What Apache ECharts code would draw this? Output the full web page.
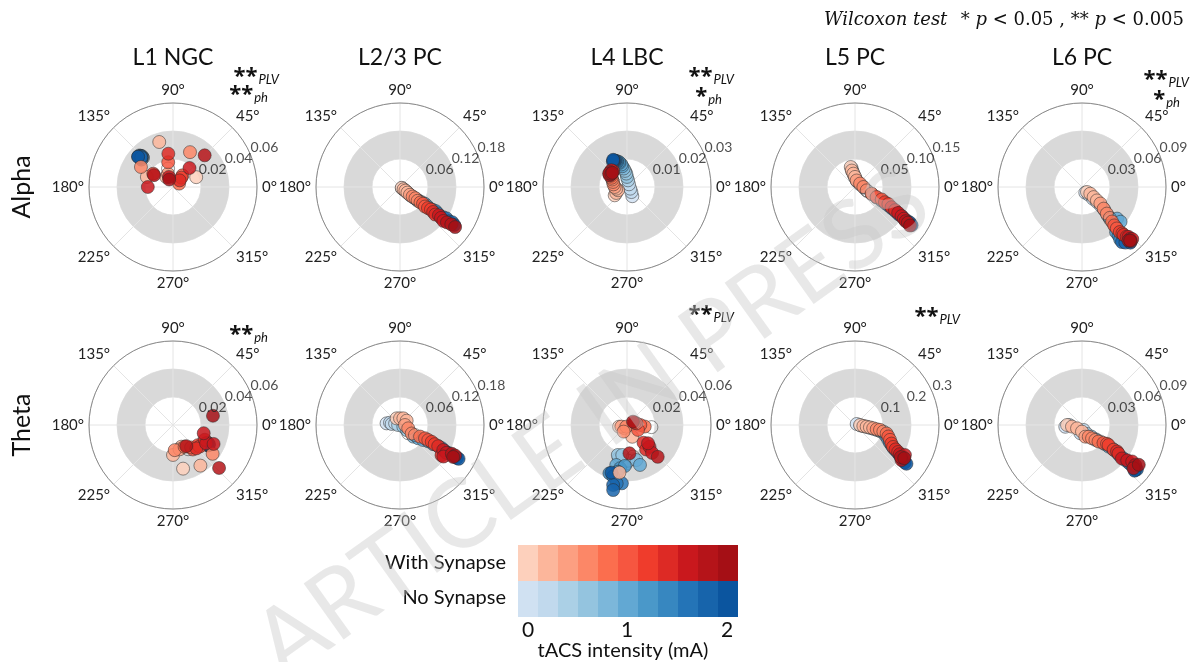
<!DOCTYPE html>
<html>
<head>
<meta charset="utf-8">
<script src="https://cdn.jsdelivr.net/npm/echarts@6.0.0/dist/echarts.min.js"></script>
<style>
  html, body { margin: 0; padding: 0; background: #fff; }
  #chart { width: 1193px; height: 662px; }
</style>
</head>
<body>
<div id="chart"></div>
<script>
// tACS intensity (mA) of each point, shared by every panel
const intensity = [0, 0.1, 0.2, 0.3, 0.4, 0.5, 0.6, 0.7, 0.8, 0.9, 1.0, 1.1, 1.2, 1.3, 1.4, 1.5, 1.6, 1.7, 1.8, 1.9, 2.0]
// colour bar levels
const legendLevels = [0, 0.2, 0.4, 0.6, 0.8, 1.0, 1.2, 1.4, 1.6, 1.8, 2.0]
const legendTicks = ['0', '1', '2']
const reds = ['#fdd0bc', '#fcb69b', '#fc9f81', '#fc8767', '#fb6e4e', '#f65640', '#ef3c2c', '#dd2a25', '#c9181d', '#b51419', '#a50f15']
const blues = ['#d0e1f2', '#c1d9ed', '#abd0e6', '#94c4df', '#7cb7da', '#62a8d3', '#4a98c9', '#3787c0', '#2474b7', '#1764ab', '#0b559f']

const cellTypes = ['L1 NGC', 'L2/3 PC', 'L4 LBC', 'L5 PC', 'L6 PC']
const bands = ['Alpha', 'Theta']
const alphaTickLabels = [['0.02', '0.04', '0.06'], ['0.06', '0.12', '0.18'], ['0.01', '0.02', '0.03'], ['0.05', '0.10', '0.15'], ['0.03', '0.06', '0.09']]
const thetaTickLabels = [['0.02', '0.04', '0.06'], ['0.06', '0.12', '0.18'], ['0.02', '0.04', '0.06'], ['0.1', '0.2', '0.3'], ['0.03', '0.06', '0.09']]
const angleTicks = [0, 45, 90, 135, 180, 225, 270, 315]

// ---- Alpha: PLV (radius) and phase (deg) ----
const l1AlphaSynR = [0.018, 0.0336, 0.020, 0.0086, 0.010, 0.0277, 0.027, 0.0136, 0.005, 0.0107, 0.018, 0.017, 0.009, 0.0067, 0.024, 0.0077, 0.018, 0.018, 0.016, 0.032, 0.006]
const l1AlphaSynDeg = [23, 107, 159, 124, 111, 64, 148, 105, 29, 51, 101, 146, 48, 45, 98, 112, 49, 180, 148, 45, 117]
const l1AlphaNoR = [0.030, 0.031, 0.032, 0.031, 0.030, 0.032, 0.033, 0.031, 0.030, 0.032, 0.031, 0.032, 0.031, 0.030, 0.031, 0.032, 0.031, 0.032, 0.033, 0.031, 0.033]
const l1AlphaNoDeg = [136, 137, 137, 138, 136, 138, 137, 135, 139, 136, 138, 137, 136, 139, 137, 136, 138, 137, 139, 137, 139]

const l23AlphaSynR = [0.004, 0.009, 0.014, 0.020, 0.027, 0.034, 0.041, 0.048, 0.055, 0.061, 0.068, 0.075, 0.082, 0.089, 0.096, 0.103, 0.110, 0.118, 0.126, 0.136, 0.146]
const l23AlphaSynDeg = [335, 328, 326, 323, 322, 323, 324, 322, 323, 324, 322, 323, 324, 323, 322, 324, 323, 322, 323, 324, 324]
const l23AlphaNoR = [0.005, 0.010, 0.016, 0.022, 0.029, 0.036, 0.043, 0.050, 0.057, 0.064, 0.071, 0.078, 0.085, 0.092, 0.099, 0.106, 0.113, 0.120, 0.128, 0.135, 0.142]
const l23AlphaNoDeg = [328, 325, 324, 322, 321, 322, 323, 324, 325, 326, 325, 324, 325, 326, 325, 324, 325, 326, 325, 326, 325]

const l4AlphaSynR = [0.0053, 0.0044, 0.0034, 0.0039, 0.0044, 0.0049, 0.0053, 0.0059, 0.0064, 0.0070, 0.0075, 0.0078, 0.0075, 0.0075, 0.0076, 0.0082, 0.0080, 0.0075, 0.0080, 0.0073, 0.0073]
const l4AlphaSynDeg = [214, 209, 200, 189, 180, 169, 160, 153, 149, 145, 143, 142, 138, 134, 131, 133, 138, 146, 143, 140, 136]
const l4AlphaNoR = [0.0038, 0.0024, 0.0013, 0.0012, 0.0024, 0.0036, 0.0048, 0.0058, 0.0067, 0.0076, 0.0083, 0.0090, 0.0094, 0.0097, 0.0100, 0.0102, 0.0104, 0.0104, 0.0106, 0.0104, 0.0109]
const l4AlphaNoDeg = [300, 311, 333, 53, 81, 90, 93, 97, 100, 103, 104, 107, 108, 111, 112, 114, 115, 117, 117, 119, 117]

const l5AlphaSynR = [0.0365, 0.030, 0.024, 0.018, 0.012, 0.011, 0.015, 0.0217, 0.032, 0.0426, 0.0527, 0.060, 0.067, 0.0746, 0.0827, 0.090, 0.098, 0.104, 0.109, 0.114, 0.120]
const l5AlphaSynDeg = [102, 101, 97, 90, 76, 34, 0, 344, 338, 335, 335, 333, 333, 331, 330, 329, 328, 327, 326, 326, 325]
const l5AlphaNoR = [0.034, 0.028, 0.022, 0.016, 0.011, 0.010, 0.016, 0.023, 0.033, 0.043, 0.053, 0.061, 0.068, 0.076, 0.084, 0.092, 0.099, 0.106, 0.112, 0.117, 0.122]
const l5AlphaNoDeg = [100, 99, 95, 88, 72, 30, 356, 342, 337, 334, 333, 332, 331, 330, 329, 328, 328, 327, 327, 327, 326]

const l6AlphaSynR = [0.0076, 0.0114, 0.0165, 0.0215, 0.0265, 0.0328, 0.0390, 0.0445, 0.0490, 0.0537, 0.0580, 0.0630, 0.0660, 0.0680, 0.0716, 0.0730, 0.0758, 0.0775, 0.0760, 0.0780, 0.0770]
const l6AlphaSynDeg = [315, 321, 319, 318, 318, 315, 313, 312, 311, 310, 310, 310, 311, 311, 312, 313, 313, 314, 311, 312, 312]
const l6AlphaNoR = [0.0070, 0.0109, 0.0172, 0.0227, 0.0288, 0.0346, 0.0410, 0.0460, 0.0506, 0.0506, 0.0556, 0.0558, 0.0607, 0.0650, 0.0695, 0.0697, 0.0735, 0.0767, 0.0729, 0.0756, 0.0790]
const l6AlphaNoDeg = [300, 311, 313, 315, 315, 314, 312, 311, 311, 318, 318, 310, 307, 307, 306, 310, 310, 311, 306, 308, 311]

// ---- Theta ----
const l1ThetaSynR = [0.032, 0.0214, 0.035, 0.0166, 0.018, 0.018, 0.035, 0.0204, 0.0176, 0.0225, 0.0206, 0.0229, 0.0245, 0.025, 0.0236, 0.027, 0.032, 0.0227, 0.0178, 0.045, 0.0293]
const l1ThetaSynDeg = [283, 270, 304, 291, 285, 274, 324, 302, 298, 309, 309, 321, 321, 335, 315, 331, 335, 345, 302, 317, 13]
const l1ThetaNoR = [0.028, 0.029, 0.028, 0.027, 0.029, 0.028, 0.028, 0.029, 0.028, 0.027, 0.028, 0.029, 0.028, 0.028, 0.029, 0.028, 0.027, 0.028, 0.029, 0.028, 0.028]
const l1ThetaNoDeg = [331, 330, 332, 331, 330, 331, 333, 332, 330, 331, 332, 331, 330, 332, 331, 330, 331, 332, 331, 330, 331]

const l23ThetaSynR = [0.016, 0.0143, 0.016, 0.017, 0.0107, 0.019, 0.031, 0.0386, 0.0496, 0.0607, 0.0687, 0.077, 0.085, 0.0936, 0.110, 0.107, 0.116, 0.115, 0.127, 0.135, 0.133]
const l23ThetaSynDeg = [117, 90, 63, 33, 0, 338, 324, 326, 330, 332, 332, 332, 331, 331, 324, 330, 329, 324, 331, 331, 329]
const l23ThetaNoR = [0.029, 0.022, 0.018, 0.011, 0.004, 0.008, 0.018, 0.025, 0.038, 0.0486, 0.059, 0.070, 0.082, 0.094, 0.102, 0.111, 0.120, 0.128, 0.136, 0.141, 0.145]
const l23ThetaNoDeg = [173, 167, 173, 162, 180, 333, 323, 315, 319, 324, 327, 330, 330, 331, 331, 330, 330, 330, 330, 330, 330]

const l4ThetaSynR = [0.0058, 0.0029, 0.0092, 0.0344, 0.0042, 0.0013, 0.0053, 0.0175, 0.0127, 0.0095, 0.0086, 0.0068, 0.0057, 0.0173, 0.0222, 0.0224, 0.0268, 0.0199, 0.0316, 0.0203, 0.0049]
const l4ThetaSynDeg = [192, 235, 294, 261, 196, 248, 243, 355, 355, 0, 336, 10, 17, 313, 308, 316, 312, 319, 314, 275, 29]
const l4ThetaNoR = [0.0274, 0.0263, 0.0281, 0.0255, 0.0245, 0.0224, 0.0217, 0.0230, 0.0259, 0.0300, 0.0296, 0.0313, 0.0293, 0.0340, 0.0367, 0.0381, 0.0418, 0.0424, 0.0440, 0.0475, 0.0358]
const l4ThetaNoDeg = [269, 265, 262, 272, 256, 253, 261, 281, 285, 288, 255, 261, 267, 259, 250, 255, 265, 260, 257, 258, 252]

const l5ThetaSynR = [0.018, 0.030, 0.042, 0.054, 0.066, 0.079, 0.091, 0.104, 0.117, 0.126, 0.136, 0.146, 0.157, 0.169, 0.182, 0.191, 0.204, 0.208, 0.208, 0.200, 0.212]
const l5ThetaSynDeg = [0, 353, 352, 351, 350, 349, 349, 347, 345, 341, 337, 333, 330, 329, 328, 327, 326, 329, 323, 325, 326]
const l5ThetaNoR = [0.007, 0.020, 0.032, 0.045, 0.057, 0.069, 0.082, 0.094, 0.107, 0.119, 0.130, 0.140, 0.150, 0.161, 0.172, 0.183, 0.193, 0.203, 0.212, 0.222, 0.230]
const l5ThetaNoDeg = [31, 355, 352, 350, 349, 348, 347, 346, 344, 340, 336, 333, 331, 329, 328, 327, 326, 325, 324, 323, 323]

const l6ThetaSynR = [0.0160, 0.0109, 0.0064, 0.0071, 0.0130, 0.0144, 0.0179, 0.0215, 0.0250, 0.0300, 0.0336, 0.0357, 0.0430, 0.0470, 0.0497, 0.0558, 0.0615, 0.0665, 0.0714, 0.0720, 0.0743]
const l6ThetaSynDeg = [180, 189, 214, 270, 286, 300, 307, 312, 315, 320, 323, 323, 322, 323, 322, 320, 322, 324, 323, 320, 325]
const l6ThetaNoR = [0.0180, 0.0136, 0.0090, 0.0056, 0.0110, 0.0160, 0.0214, 0.0265, 0.0317, 0.0368, 0.0420, 0.0464, 0.0513, 0.0563, 0.0607, 0.0652, 0.0693, 0.0720, 0.0747, 0.0757, 0.0746]
const l6ThetaNoDeg = [186, 180, 259, 288, 299, 309, 314, 318, 320, 321, 322, 322, 321, 321, 321, 321, 321, 321, 320, 321, 319]

const panels = [
  { syn: [l1AlphaSynR, l1AlphaSynDeg], no: [l1AlphaNoR, l1AlphaNoDeg] },
  { syn: [l23AlphaSynR, l23AlphaSynDeg], no: [l23AlphaNoR, l23AlphaNoDeg] },
  { syn: [l4AlphaSynR, l4AlphaSynDeg], no: [l4AlphaNoR, l4AlphaNoDeg] },
  { syn: [l5AlphaSynR, l5AlphaSynDeg], no: [l5AlphaNoR, l5AlphaNoDeg] },
  { syn: [l6AlphaSynR, l6AlphaSynDeg], no: [l6AlphaNoR, l6AlphaNoDeg] },
  { syn: [l1ThetaSynR, l1ThetaSynDeg], no: [l1ThetaNoR, l1ThetaNoDeg] },
  { syn: [l23ThetaSynR, l23ThetaSynDeg], no: [l23ThetaNoR, l23ThetaNoDeg] },
  { syn: [l4ThetaSynR, l4ThetaSynDeg], no: [l4ThetaNoR, l4ThetaNoDeg] },
  { syn: [l5ThetaSynR, l5ThetaSynDeg], no: [l5ThetaNoR, l5ThetaNoDeg] },
  { syn: [l6ThetaSynR, l6ThetaSynDeg], no: [l6ThetaNoR, l6ThetaNoDeg] }
]

const FONT = 'Lato, "Open Sans", sans-serif'
const colX = [173, 400, 627, 855, 1082]
const rowY = [187, 425]
const R = 84

let polar = [], angleAxis = [], radiusAxis = [], series = []
let synIdx = [], noIdx = []

function pts(rArr, degArr) {
  return rArr.map((r, k) => [r, degArr[k], intensity[k]])
}

panels.forEach((p, i) => {
  const row = Math.floor(i / 5), col = i % 5
  const ticks = (row === 0 ? alphaTickLabels : thetaTickLabels)[col]
  const tv = ticks.map(parseFloat)
  polar.push({ center: [colX[col], rowY[row]], radius: R })
  angleAxis.push({
    polarIndex: i, type: 'value', min: 0, max: 360, interval: 45,
    startAngle: 0, clockwise: false,
    axisLine: { lineStyle: { color: '#8a8a8a', width: 1 } },
    axisTick: { show: false },
    axisLabel: {
      margin: 5, fontSize: 15, color: '#222', fontFamily: FONT,
      formatter: v => (angleTicks.indexOf(v) >= 0 ? v + '°' : '')
    },
    splitLine: { show: true, lineStyle: { color: '#e4e4e4', width: 1 } }
  })
  radiusAxis.push({
    polarIndex: i, type: 'value', min: 0, max: tv[2], interval: tv[0],
    axisLine: { show: false }, axisTick: { show: false }, axisLabel: { show: false },
    splitLine: { show: true, lineStyle: { color: '#e4e4e4', width: 1 } },
    splitArea: { show: true, areaStyle: { color: ['rgba(0,0,0,0)', '#d9d9d9', 'rgba(0,0,0,0)'] } }
  })
  // radial tick labels at 22.5 deg, like matplotlib
  series.push({
    type: 'scatter', coordinateSystem: 'polar', polarIndex: i, silent: true,
    symbolSize: 0, z: 4,
    data: tv.map((v, k) => ({ value: [v, 22.5], name: ticks[k] })),
    label: {
      show: true, position: [0, 0], align: 'left', verticalAlign: 'bottom',
      formatter: d => d.name, fontSize: 14, color: '#222', fontFamily: FONT
    }
  })
  noIdx.push(series.length)
  series.push({
    type: 'scatter', coordinateSystem: 'polar', polarIndex: i, z: 3,
    symbolSize: 13, data: pts(p.no[0], p.no[1]),
    itemStyle: { borderColor: '#2a2a2a', borderWidth: 0.6, opacity: 0.85 },
    emphasis: { disabled: true }
  })
  synIdx.push(series.length)
  series.push({
    type: 'scatter', coordinateSystem: 'polar', polarIndex: i, z: 3,
    symbolSize: 13, data: pts(p.syn[0], p.syn[1]),
    itemStyle: { borderColor: '#2a2a2a', borderWidth: 0.6, opacity: 0.85 },
    emphasis: { disabled: true }
  })
})

function pieces(colors) {
  return legendLevels.map((v, k) => ({ gte: v - 0.1, lt: v + 0.1, color: colors[k] }))
}
const vmBase = {
  type: 'piecewise', dimension: 2, orient: 'horizontal',
  itemWidth: 20, itemHeight: 36, itemGap: 0, itemSymbol: 'rect',
  showLabel: false, selectedMode: false, padding: 0, left: 518
}

function txt(x, y, text, size, extra) {
  return {
    type: 'text', x: x, y: y, silent: true,
    style: Object.assign({ text: text, font: size + 'px ' + FONT, fill: '#111', align: 'center', verticalAlign: 'middle' }, extra || {})
  }
}
function sig(x, y, stars, sub) {
  return {
    type: 'text', x: x, y: y, silent: true, z: 10,
    style: {
      text: '{s|' + stars + '}{b|' + sub + '}', align: 'right', verticalAlign: 'middle',
      rich: {
        s: { font: 'bold 22px "Open Sans", sans-serif', fill: '#111', padding: [6, 0, 0, 0] },
        b: { font: 'italic 13px ' + FONT, fill: '#111', padding: [12, 0, 0, 1] }
      }
    }
  }
}

let graphic = []
cellTypes.forEach((c, k) => graphic.push(txt(colX[k], 58, c, 23)))
bands.forEach((b, k) => {
  let t = txt(22, rowY[k], b, 25)
  t.rotation = Math.PI / 2
  graphic.push(t)
})
graphic.push({
  type: 'text', x: 1184, y: 20, silent: true,
  style: {
    text: '{i|Wilcoxon test}    {n|* }{i|p}{n| < 0.05 , ** }{i|p}{n| < 0.005}',
    align: 'right', verticalAlign: 'middle',
    rich: {
      i: { font: 'italic 18px "DejaVu Serif", serif', fill: '#111' },
      n: { font: '18px "DejaVu Serif", serif', fill: '#111' }
    }
  }
})
// significance marks
graphic.push(sig(279, 74, '**', 'PLV'), sig(268, 92, '**', 'ph'))
graphic.push(sig(734, 74, '**', 'PLV'), sig(722, 94, '*', 'ph'))
graphic.push(sig(1189, 77, '**', 'PLV'), sig(1180, 97, '*', 'ph'))
graphic.push(sig(268, 332, '**', 'ph'))
graphic.push(sig(734, 312, '**', 'PLV'))
graphic.push(sig(960, 314, '**', 'PLV'))
// colour bar labels
graphic.push(txt(506, 563, 'With Synapse', 20, { align: 'right' }))
graphic.push(txt(506, 598, 'No Synapse', 20, { align: 'right' }))
const tickX = [528, 627, 727]
legendTicks.forEach((t, k) => graphic.push(txt(tickX[k], 630, t, 21)))
graphic.push(txt(623, 651, 'tACS intensity (mA)', 20))
// watermark
graphic.push({
  type: 'text', x: 592, y: 424, rotation: 0.62, silent: true, z: 100,
  style: { text: 'ARTICLE IN PRESS', font: '96px ' + FONT, fill: 'rgba(200,200,200,0.42)', align: 'center', verticalAlign: 'middle' }
})

const chart = echarts.init(document.getElementById('chart'))
chart.setOption({
  animation: false,
  backgroundColor: '#fff',
  polar: polar,
  angleAxis: angleAxis,
  radiusAxis: radiusAxis,
  visualMap: [
    Object.assign({}, vmBase, { seriesIndex: synIdx, pieces: pieces(reds), top: 545 }),
    Object.assign({}, vmBase, { seriesIndex: noIdx, pieces: pieces(blues), top: 581 })
  ],
  series: series,
  graphic: graphic
})
window.onresize = function () { chart.resize() }
</script>
</body>
</html>
